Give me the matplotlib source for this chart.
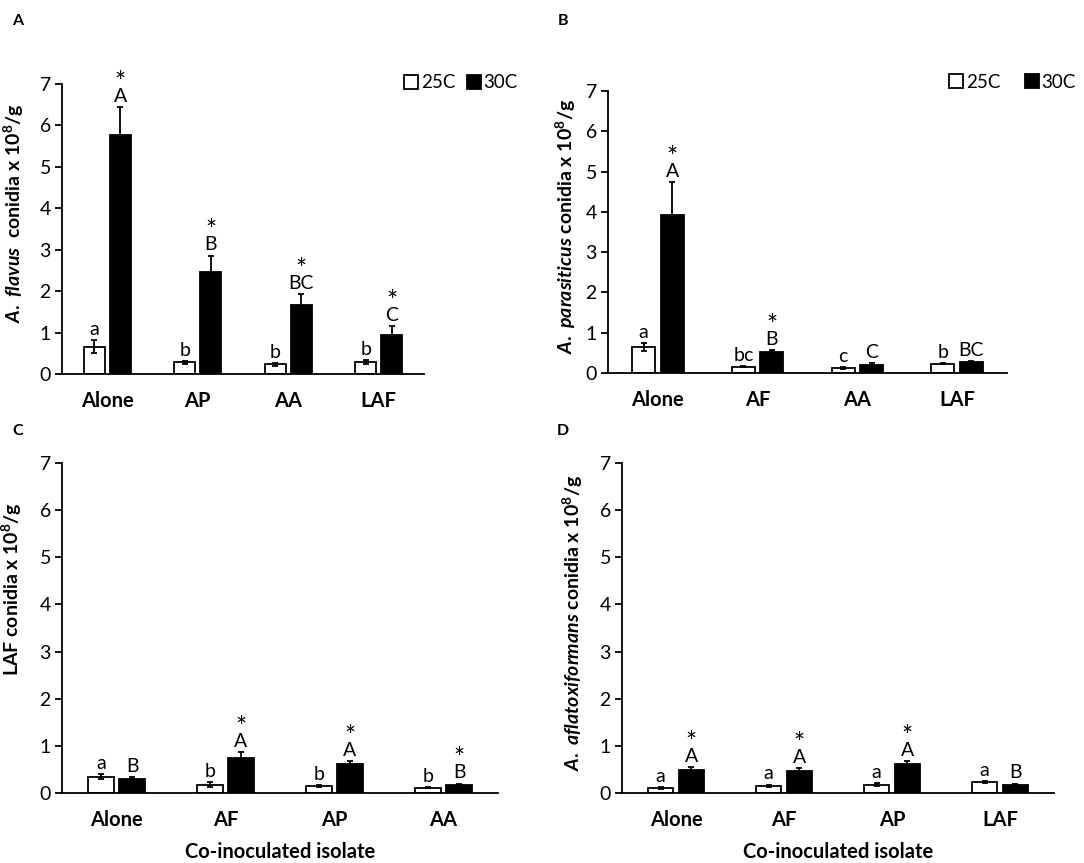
import matplotlib
matplotlib.use('Agg')
import matplotlib.pyplot as plt
from matplotlib.patches import Patch
from matplotlib import rcParams

rcParams['font.family'] = 'Lato'
rcParams['font.size'] = 14
rcParams['mathtext.fontset'] = 'custom'
rcParams['mathtext.it'] = 'Lato:italic:bold'
rcParams['mathtext.bf'] = 'Lato:bold'
rcParams['mathtext.rm'] = 'Lato:bold'

# ---- data ----
temps = ['25C', '30C']

groups_A = ['Alone', 'AP', 'AA', 'LAF']
mean25_A = [0.66, 0.28, 0.23, 0.29]
err25_A = [0.15, 0.04, 0.04, 0.05]
mean30_A = [5.78, 2.45, 1.66, 0.94]
err30_A = [0.66, 0.41, 0.28, 0.22]
let25_A = ['a', 'b', 'b', 'b']
let30_A = ['A', 'B', 'BC', 'C']
star_A = [True, True, True, True]

groups_B = ['Alone', 'AF', 'AA', 'LAF']
mean25_B = [0.64, 0.16, 0.12, 0.23]
err25_B = [0.10, 0.02, 0.02, 0.01]
mean30_B = [3.92, 0.53, 0.21, 0.27]
err30_B = [0.83, 0.03, 0.04, 0.03]
let25_B = ['a', 'bc', 'c', 'b']
let30_B = ['A', 'B', 'C', 'BC']
star_B = [True, True, False, False]

groups_C = ['Alone', 'AF', 'AP', 'AA']
mean25_C = [0.35, 0.18, 0.14, 0.11]
err25_C = [0.05, 0.05, 0.02, 0.01]
mean30_C = [0.29, 0.74, 0.61, 0.18]
err30_C = [0.04, 0.13, 0.07, 0.02]
let25_C = ['a', 'b', 'b', 'b']
let30_C = ['B', 'A', 'A', 'B']
star_C = [False, True, True, True]

groups_D = ['Alone', 'AF', 'AP', 'LAF']
mean25_D = [0.11, 0.15, 0.18, 0.24]
err25_D = [0.02, 0.03, 0.04, 0.02]
mean30_D = [0.49, 0.47, 0.62, 0.18]
err30_D = [0.06, 0.06, 0.05, 0.02]
let25_D = ['a', 'a', 'a', 'a']
let30_D = ['A', 'A', 'A', 'B']
star_D = [True, True, True, False]

W, H = 1084, 863
fig = plt.figure(figsize=(W / 100, H / 100), dpi=100)


def px_rect(x0, x1, ytop, ybot):
    return [x0 / W, 1 - ybot / H, (x1 - x0) / W, (ybot - ytop) / H]


bar_w = 0.23
off = 0.1425


def draw_panel(rect, groups, m25, e25, m30, e30, l25, l30, stars,
               ylabel, ylab_pos, xlabel=None):
    ax = fig.add_axes(rect)
    xs = range(len(groups))
    x25 = [x - off for x in xs]
    x30 = [x + off for x in xs]
    ax.bar(x25, m25, width=bar_w, color='white', edgecolor='black',
           linewidth=1.3, zorder=2)
    ax.bar(x30, m30, width=bar_w, color='black', edgecolor='black',
           linewidth=1.3, zorder=2)
    ax.errorbar(x25, m25, yerr=e25, fmt='none', ecolor='black',
                elinewidth=1.3, capsize=2.5, capthick=1.3, zorder=3)
    ax.errorbar(x30, m30, yerr=e30, fmt='none', ecolor='black',
                elinewidth=1.3, capsize=2.5, capthick=1.3, zorder=3)
    for i in xs:
        ax.annotate(l25[i], (x25[i], m25[i] + e25[i]), xytext=(0, 1.5),
                    textcoords='offset points', ha='center', va='bottom',
                    fontsize=14)
        ax.annotate(l30[i], (x30[i], m30[i] + e30[i]), xytext=(0, 1.5),
                    textcoords='offset points', ha='center', va='bottom',
                    fontsize=14)
        if stars[i]:
            ax.annotate('*', (x30[i], m30[i] + e30[i]), xytext=(0, 8),
                        textcoords='offset points', ha='center', va='bottom',
                        fontsize=19)
    ax.set_xlim(-0.5, len(groups) - 0.5)
    ax.set_ylim(0, 7)
    ax.set_yticks(range(0, 8))
    ax.set_xticks(list(xs))
    ax.set_xticklabels(groups, fontweight='bold', fontsize=14.5)
    ax.tick_params(axis='x', length=0, pad=12)
    ax.tick_params(axis='y', direction='out', length=5, width=1.3,
                   labelsize=14, pad=3)
    for s in ['top', 'right']:
        ax.spines[s].set_visible(False)
    for s in ['left', 'bottom']:
        ax.spines[s].set_linewidth(1.3)
    ax.set_ylabel(ylabel, fontweight='bold', fontsize=14)
    ax.yaxis.set_label_coords(*ylab_pos)
    if xlabel:
        ax.set_xlabel(xlabel, fontweight='bold', fontsize=14.5, labelpad=9)
    return ax


axA = draw_panel(px_rect(62, 424, 84, 374), groups_A, mean25_A, err25_A,
                 mean30_A, err30_A, let25_A, let30_A, star_A,
                 r'$\mathit{A.\ flavus}$  conidia x 10$^{\mathbf{8}}$/g',
                 (-0.100, 0.555))
axB = draw_panel(px_rect(608, 1007, 91, 373), groups_B, mean25_B, err25_B,
                 mean30_B, err30_B, let25_B, let30_B, star_B,
                 r'$\mathit{A.\ parasiticus}$ conidia x 10$^{\mathbf{8}}$/g',
                 (-0.075, 0.518))
axC = draw_panel(px_rect(62, 498, 463, 793), groups_C, mean25_C, err25_C,
                 mean30_C, err30_C, let25_C, let30_C, star_C,
                 r'LAF conidia x 10$^{\mathbf{8}}$/g',
                 (-0.088, 0.618), xlabel='Co-inoculated isolate')
axD = draw_panel(px_rect(622, 1054, 463, 793), groups_D, mean25_D, err25_D,
                 mean30_D, err30_D, let25_D, let30_D, star_D,
                 r'$\mathit{A.\ aflatoxiformans}$ conidia x 10$^{\mathbf{8}}$/g',
                 (-0.085, 0.515), xlabel='Co-inoculated isolate')

handles = [Patch(facecolor='white', edgecolor='black', linewidth=1.3),
           Patch(facecolor='black', edgecolor='black', linewidth=1.3)]
fig.legend(handles, temps, loc='center left', bbox_to_anchor=(404 / W, 1 - 83 / H),
           ncol=2, frameon=False, handlelength=0.75, handleheight=0.75,
           handletextpad=0.15, columnspacing=0.6, fontsize=13.5, borderaxespad=0,
           borderpad=0)
fig.legend(handles, temps, loc='center left', bbox_to_anchor=(949 / W, 1 - 82 / H),
           ncol=2, frameon=False, handlelength=0.75, handleheight=0.75,
           handletextpad=0.15, columnspacing=1.3, fontsize=13.5, borderaxespad=0,
           borderpad=0)

for lab, (x, y) in zip('ABCD', [(18, 21), (563, 21), (18, 431), (563, 431)]):
    fig.text(x / W, 1 - y / H, lab, fontweight='bold', fontsize=11.5,
             ha='center', va='center')

fig.savefig('out.png', dpi=100)
